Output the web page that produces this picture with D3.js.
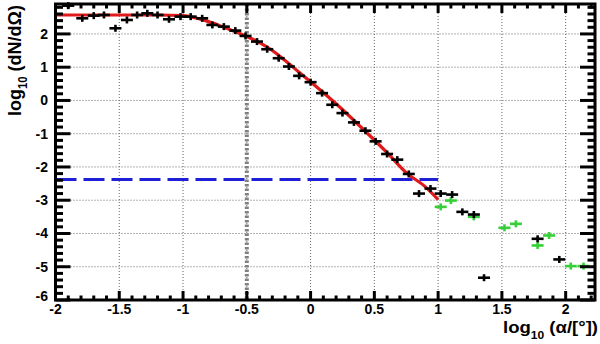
<!DOCTYPE html>
<html>
<head>
<meta charset="utf-8">
<script src="https://cdn.jsdelivr.net/npm/d3@7"></script>
<style>
  html, body { margin: 0; padding: 0; background: #fff; }
  svg { display: block; font-family: "Liberation Sans", Arial, Helvetica, sans-serif; font-weight: bold; }
</style>
</head>
<body>
<svg id="chart" width="600" height="344"></svg>
<script>
// ---- data ----
const blackX = [-1.90, -1.79, -1.70, -1.62, -1.53, -1.44, -1.36, -1.28, -1.20, -1.11, -1.02,
                -0.94, -0.85, -0.77, -0.68, -0.59, -0.51, -0.42, -0.34, -0.25, -0.17, -0.09,
                0.00, 0.09, 0.17, 0.25, 0.34, 0.43, 0.51, 0.60, 0.68, 0.77, 0.85, 0.94,
                1.02, 1.11, 1.19, 1.28, 1.36, 1.78, 1.95];
const blackY = [2.85, 2.47, 2.55, 2.57, 2.17, 2.42, 2.57, 2.62, 2.57, 2.44, 2.52,
                2.52, 2.47, 2.27, 2.22, 2.10, 1.94, 1.77, 1.54, 1.27, 1.02, 0.74,
                0.55, 0.22, -0.13, -0.38, -0.66, -0.91, -1.23, -1.61, -1.78, -2.21, -2.80, -2.65,
                -2.80, -2.83, -3.35, -3.43, -5.33, -4.16, -4.78];

const greenX = [1.02, 1.10, 1.28, 1.52, 1.61, 1.78, 1.87, 2.04, 2.14];
const greenY = [-3.20, -3.01, -3.50, -3.83, -3.71, -4.36, -4.06, -4.98, -4.98];

// red fit curve
const fitX = [-2, -1.6, -1.2, -1.0, -0.9, -0.8, -0.7, -0.6, -0.5, -0.4, -0.3, -0.2, -0.1,
              0, 0.2, 0.4, 0.6, 0.75, 0.9, 1.0];
const fitY = [2.57, 2.57, 2.57, 2.55, 2.48, 2.37, 2.23, 2.08, 1.92, 1.74, 1.50, 1.20, 0.88,
              0.56, -0.10, -0.82, -1.57, -2.17, -2.60, -2.98];

// blue dashed level and grey vertical marker
const levelX = [-2, 1.0];
const levelY = -2.38;
const markerX = -0.5;

// axis ticks
const xTicks = [-2, -1.5, -1, -0.5, 0, 0.5, 1, 1.5, 2];
const xTickLabels = ["-2", "-1.5", "-1", "-0.5", "0", "0.5", "1", "1.5", "2"];
const yTicks = [-6, -5, -4, -3, -2, -1, 0, 1, 2];
const yTickLabels = ["-6", "-5", "-4", "-3", "-2", "-1", "0", "1", "2"];

// ---- layout ----
const plotL = 55.5, plotR = 595, plotT = 4, plotB = 300;
const x = d3.scaleLinear().domain([-2, 2.23]).range([plotL, plotR]);
const y = d3.scaleLinear().domain([-6, 2.9]).range([plotB, plotT]);

const svg = d3.select("#chart");

// grid (dotted)
const grid = svg.append("g").attr("stroke", "#666").attr("stroke-width", 1)
    .attr("stroke-dasharray", "1,2");
grid.selectAll(".gx").data(xTicks.filter(d => d > -2)).enter().append("line")
    .attr("x1", d => x(d)).attr("x2", d => x(d)).attr("y1", plotT).attr("y2", plotB);
grid.selectAll(".gy").data(yTicks.filter(d => d > -6)).enter().append("line")
    .attr("x1", plotL).attr("x2", plotR).attr("y1", d => y(d)).attr("y2", d => y(d));

// grey vertical marker
svg.append("line")
    .attr("x1", x(markerX)).attr("x2", x(markerX)).attr("y1", plotT).attr("y2", plotB)
    .attr("stroke", "#808080").attr("stroke-width", 4).attr("stroke-dasharray", "2.5,2");

// blue dashed level
svg.append("line")
    .attr("x1", x(levelX[0])).attr("x2", x(levelX[1])).attr("y1", y(levelY)).attr("y2", y(levelY))
    .attr("stroke", "#1f1fd8").attr("stroke-width", 3).attr("stroke-dasharray", "21,7");

// red fit
const fitData = fitX.map((d, i) => [d, fitY[i]]);
svg.append("path")
    .datum(fitData)
    .attr("fill", "none").attr("stroke", "#e01a1a").attr("stroke-width", 3.2)
    .attr("d", d3.line().x(d => x(d[0])).y(d => y(d[1])).curve(d3.curveMonotoneX));

// markers with error bars
function drawPoints(xs, ys, color) {
    const pts = xs.map((d, i) => [d, ys[i]]);
    const g = svg.append("g").attr("stroke", color).attr("stroke-width", 2.6);
    const nodes = g.selectAll("g").data(pts).enter().append("g")
        .attr("transform", d => `translate(${x(d[0])},${y(d[1])})`);
    nodes.append("line").attr("x1", -6).attr("x2", 6).attr("y1", 0).attr("y2", 0);
    nodes.append("line").attr("x1", 0).attr("x2", 0).attr("y1", -3.5).attr("y2", 3.5);
}
drawPoints(greenX, greenY, "#35d035");
drawPoints(blackX, blackY, "#000");

// ---- frame and ticks ----
const axes = svg.append("g").attr("stroke", "#000").attr("stroke-width", 3);
axes.append("rect")
    .attr("x", plotL).attr("y", plotT).attr("width", plotR - plotL).attr("height", plotB - plotT)
    .attr("fill", "none");

const xMinor = d3.range(-2, 2.23, 0.1).map(d => Math.round(d * 10) / 10);
const yMinor = d3.range(-6, 2.9, 0.2).map(d => Math.round(d * 10) / 10);
const isMajor = (d, step) => Math.abs(d / step - Math.round(d / step)) < 1e-6;

// bottom & top ticks
xMinor.forEach(d => {
    const len = isMajor(d, 0.5) ? 9 : 4.5;
    axes.append("line").attr("x1", x(d)).attr("x2", x(d)).attr("y1", plotB).attr("y2", plotB - len);
    axes.append("line").attr("x1", x(d)).attr("x2", x(d)).attr("y1", plotT).attr("y2", plotT + len);
});
// left & right ticks
yMinor.forEach(d => {
    const len = isMajor(d, 1) ? 15 : 7.5;
    axes.append("line").attr("x1", plotL).attr("x2", plotL + len).attr("y1", y(d)).attr("y2", y(d));
    axes.append("line").attr("x1", plotR).attr("x2", plotR - len).attr("y1", y(d)).attr("y2", y(d));
});

// tick labels
svg.append("g").selectAll("text").data(xTicks).enter().append("text")
    .attr("x", d => x(d)).attr("y", 314).attr("text-anchor", "middle")
    .attr("font-size", 14).text((d, i) => xTickLabels[i]);

svg.append("g").selectAll("text").data(yTicks).enter().append("text")
    .attr("x", 48).attr("y", d => Math.min(y(d), 296) + 5).attr("text-anchor", "end")
    .attr("font-size", 14).text((d, i) => yTickLabels[i]);

// axis titles
const xt = svg.append("text").attr("x", 503).attr("y", 333)
    .attr("font-size", 17).attr("textLength", 95).attr("lengthAdjust", "spacingAndGlyphs");
xt.append("tspan").text("log");
xt.append("tspan").attr("dy", 6).attr("font-size", 11).text("10");
xt.append("tspan").attr("dy", -6).text(" (\u03b1/[\u00b0])");

const yt = svg.append("text").attr("transform", "translate(21,116) rotate(-90)")
    .attr("font-size", 19).attr("textLength", 111).attr("lengthAdjust", "spacingAndGlyphs");
yt.append("tspan").text("log");
yt.append("tspan").attr("dy", 6).attr("font-size", 12).text("10");
yt.append("tspan").attr("dy", -6).text(" (dN/d\u03a9)");
</script>
</body>
</html>
